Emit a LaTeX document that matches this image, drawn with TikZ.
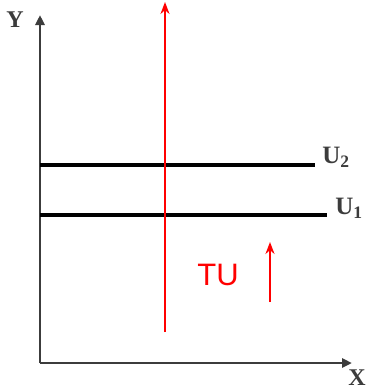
\documentclass[tikz,border=0pt]{standalone}
\usepackage{fontspec}
\setmainfont{Liberation Serif}
\newfontfamily\tusans{Liberation Sans}
\usepackage{tikz}
\usetikzlibrary{arrows.meta, positioning}
\definecolor{axisgray}{RGB}{60,60,60}
\definecolor{utilred}{RGB}{255,0,0}
\tikzset{
  axis/.style={-{Triangle[length=10pt,width=9pt]}, line width=2.6pt, color=axisgray},
  indiff/.style={line width=4pt, color=black},
  axislabel/.style={font=\fontsize{24}{24}\selectfont\bfseries, color=axisgray, inner sep=0pt},
  curvelabel/.style={font=\fontsize{25}{25}\selectfont\bfseries, color=axisgray, inner sep=0pt},
  redarrow/.style={-{Stealth[length=12pt,width=9pt]}, line width=2pt, color=utilred},
  redlabel/.style={font=\tusans\fontsize{31}{31}\selectfont, color=utilred, inner sep=0pt}
}
\begin{document}
\begin{tikzpicture}[x=1pt, y=-1pt]
  \useasboundingbox (0,0) rectangle (368,392);

  % Axes
  \coordinate (origin) at (40,363);
  \coordinate (ytip) at (40,15);
  \coordinate (xtip) at (352,363);
  \draw[axis] (origin) -- (ytip);
  \draw[axis] (origin) -- (xtip);
  \node[axislabel] (ylab) at (15,20) {Y};
  \node[axislabel] (xlab) at (357,378) {X};

  % Utility levels
  \coordinate (u2start) at (40,165);
  \coordinate (u2end) at (315,165);
  \coordinate (u1start) at (40,215);
  \coordinate (u1end) at (327,215);
  \draw[indiff] (u2start) -- (u2end);
  \draw[indiff] (u1start) -- (u1end);
  \node[curvelabel] (u2lab) at (336,157) {U\textsubscript{2}};
  \node[curvelabel] (u1lab) at (349,208) {U\textsubscript{1}};

  % Total utility arrows
  \coordinate (bigfoot) at (165,332);
  \coordinate (bighead) at (165,2);
  \draw[redarrow] (bigfoot) -- (bighead);
  \coordinate (smallfoot) at (270,302);
  \coordinate (smallhead) at (270,242);
  \draw[redarrow] (smallfoot) -- (smallhead);
  \node[redlabel] (tulab) at (218,275) {TU};
\end{tikzpicture}
\end{document}
